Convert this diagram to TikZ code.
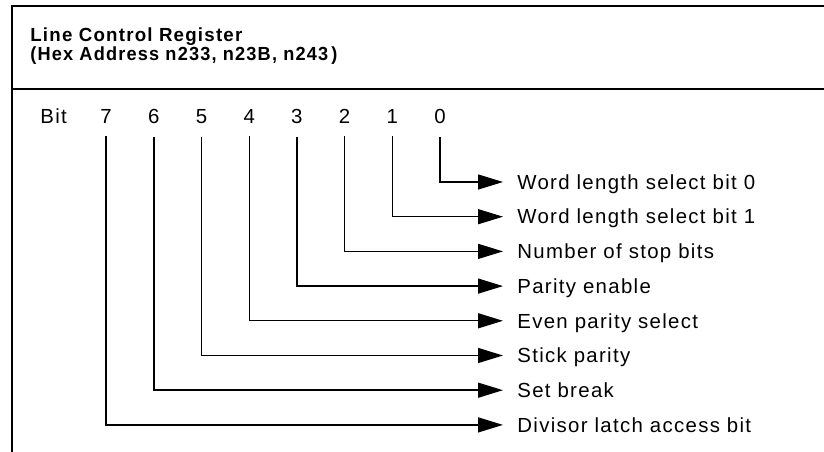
\documentclass[tikz,border=0pt]{standalone}
\usepackage{fontspec}
\usepackage{graphicx}
\setmainfont{Liberation Sans}[LetterSpace=6.5]
\usetikzlibrary{arrows.meta}
\tikzset{
	bitno/.style={anchor=base,inner xsep=0pt,inner ysep=0.24cm},
	field/.style={anchor=west,inner xsep=0.28cm,inner ysep=0pt,text height=8.3pt,text depth=0pt},
	feed/.style={thick,-{Triangle[length=0.5cm,width=0.3cm]}},
	head/.style={anchor=base west,inner sep=0pt,font=\fontsize{10.8}{13}\selectfont\bfseries}
}
\begin{document}
\begin{tikzpicture}[font=\fontsize{11.6}{14}\selectfont]
	\useasboundingbox (0,0) rectangle (16.48,9.04);
	\draw[thick] (0.24,0) |- (16.48,8.92);
	\draw[thick] (0.24,7.26) -- (16.48,7.26);
	\node (title) [head] at (0.6,8.2) {\resizebox{4.24cm}{\height}{Line Control Register}};
	\node (addr) [head] at (0.6,7.82) {\resizebox{6.14cm}{\height}{(Hex Address n233, n23B, n243\,)}};
	\node (bit) [anchor=base west,inner sep=0pt] at (0.8,6.56) {Bit};
	\foreach \i/\txt in {0/Word length select bit 0,1/Word length select bit 1,2/Number of stop bits,3/Parity enable,4/Even parity select,5/Stick parity,6/Set break,7/Divisor latch access bit} {
		\node (b\i) [bitno] at (8.8-0.954*\i,6.56) {\i};
		\node (l\i) [field] at (10.06,5.4-0.694*\i) {\txt};
		\draw[feed] (b\i.south) |- (l\i.west);
	}
\end{tikzpicture}
\end{document}
